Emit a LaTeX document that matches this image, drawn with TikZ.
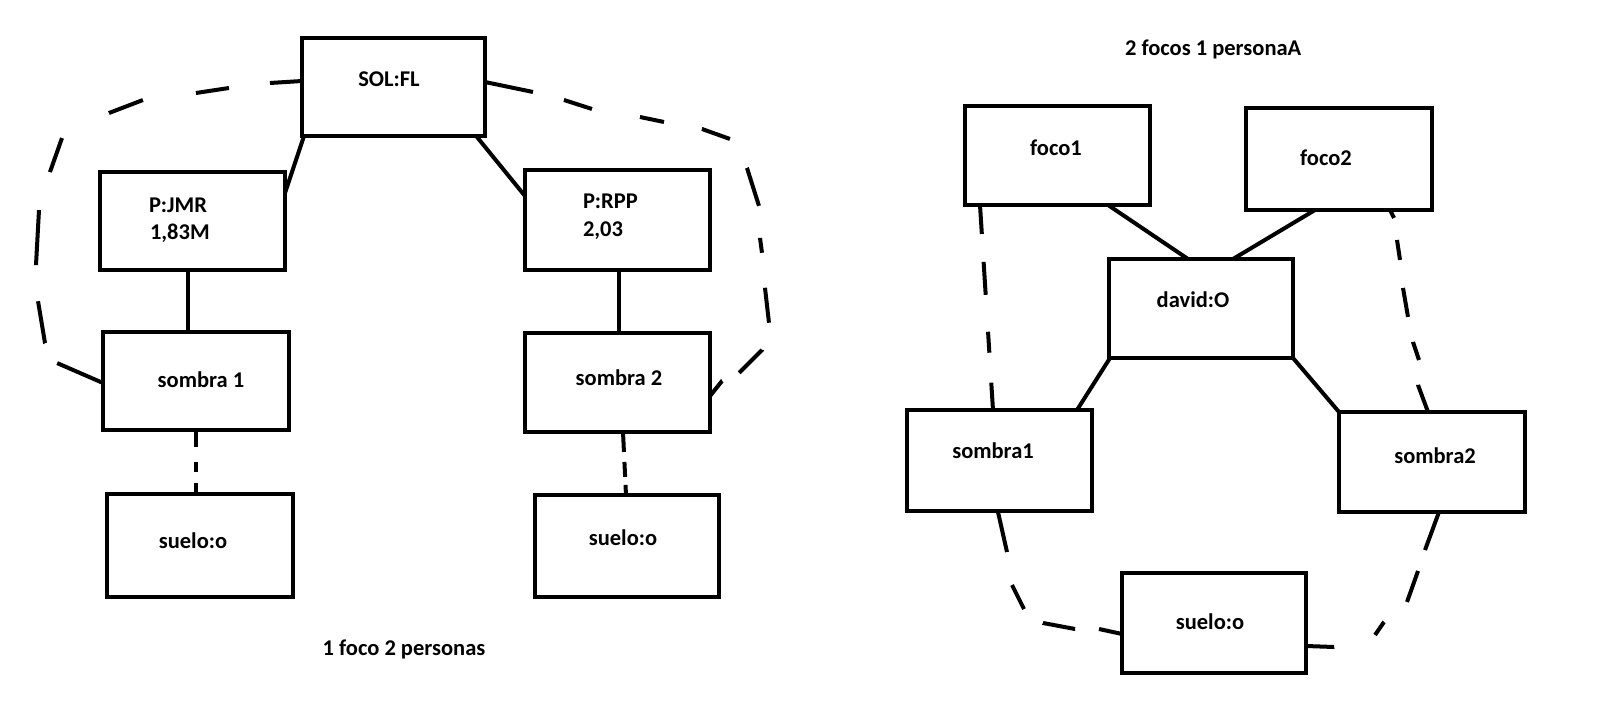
\documentclass[tikz,border=0pt]{standalone}
\usepackage{fontspec}
\setmainfont{Carlito}
\usetikzlibrary{calc}
\begin{document}
\begin{tikzpicture}[x=1pt,y=-1pt,
  box/.style 2 args={draw, line width=4pt, inner sep=0pt, outer sep=0pt, minimum width=#1pt, minimum height=#2pt},
  lbl/.style={inner sep=0pt, outer sep=0pt, anchor=base, font=\fontsize{22.5}{27}\selectfont\bfseries},
  lblw/.style={lbl, anchor=base west},
  conn/.style={line width=4pt},
  dconn/.style={line width=4pt, line join=miter}]
\fill[white] (0,0) rectangle (1612,706);
\useasboundingbox (0,0) rectangle (1612,706);
% ---------- left diagram ----------
\node[box={183}{98}] (sol) at (393.5,87) {};
\node[box={185}{98}] (pjmr) at (192.5,221) {};
\node[box={185}{100}] (prpp) at (617.5,220) {};
\node[box={186}{98}] (s1L) at (196,381) {};
\node[box={185}{99}] (s2L) at (617.5,382.5) {};
\node[box={186}{103}] (sueloLa) at (200,545.5) {};
\node[box={184}{102}] (sueloLb) at (627,546) {};
\node[lbl] (sol-t) at (389,87) {SOL:FL};
\node[lblw] (jmr-t1) at (149,212) {P:JMR};
\node[lblw] (jmr-t2) at (150,239) {1,83M};
\node[lblw] (rpp-t1) at (583,208) {P:RPP};
\node[lblw] (rpp-t2) at (583,236) {2,03};
\node[lbl] (s1L-t) at (201,387) {sombra 1};
\node[lbl] (s2L-t) at (619,385) {sombra 2};
\node[lbl] (sueloLa-t) at (193,548) {suelo:o};
\node[lbl] (sueloLb-t) at (623,545) {suelo:o};
\node[lbl] (cap1) at (404,655) {1 foco 2 personas};
\draw[conn] ($(sol.south west)+(2,0)$) -- ($(pjmr.north east)+(0,21)$);
\draw[conn] ($(sol.south east)+(-8,1)$) -- ($(prpp.north west)+(0,26)$);
\draw[conn] ($(pjmr.south)+(-4.5,0)$) -- ($(s1L.north)+(-8,0)$);
\draw[conn] ($(prpp.south)+(1.5,0)$) -- ($(s2L.north)+(1.5,0)$);
\draw[dconn, dash pattern=on 17pt off 15pt on 10pt off 11pt on 20pt off 5pt]
  (s1L.south) -- ($(sueloLa.north)+(-4,0)$);
\draw[dconn, dash pattern=on 20pt off 10pt on 15pt off 8pt on 20pt off 5pt]
  ($(s2L.south)+(5.5,0)$) -- ($(sueloLb.north)+(-1,0)$);
\draw[dconn, dash pattern=on 32.1pt off 41.3pt on 33.4pt off 53.5pt on 36.4pt off 53.2pt on 36.1pt off 39.6pt on 55.1pt off 36.1pt on 42.6pt off 23.3pt on 60pt off 10pt]
  ($(sol.west)+(0,-6)$) -- (270,83) -- (229,88) -- (196,93) -- (143,100) -- (109,113)
  -- (62,138) -- (50,172) -- (39,210) -- (36,265) -- (38,301) -- (45,343) -- (57,363)
  -- ($(s1L.west)+(0,2)$);
\draw[dconn, dash pattern=on 49pt off 32pt on 29.4pt off 48.7pt on 24.5pt off 38.6pt on 29.7pt off 33.6pt on 39.8pt off 32pt on 15.1pt off 35.1pt on 35.2pt off 27.9pt on 32.5pt off 18.8pt on 30pt off 5pt]
  ($(sol.east)+(0,-5)$) -- (533,92) -- (564,100) -- (592,109) -- (640,117) -- (664,122)
  -- (702,129) -- (730,139) -- (747,168) -- (759,206) -- (760,238) -- (762,253)
  -- (765,288) -- (769,323) -- (762,350) -- (739,373) -- (722,381)
  -- ($(s2L.east)+(0,13.5)$);
% ---------- right diagram ----------
\node[box={185}{99}] (foco1) at (1057.5,155.5) {};
\node[box={186}{102}] (foco2) at (1339,159) {};
\node[box={184}{99}] (david) at (1201,308.5) {};
\node[box={185}{101}] (sombra1R) at (999.5,460.5) {};
\node[box={186}{100}] (sombra2R) at (1432,462) {};
\node[box={184}{100}] (sueloR) at (1214,623) {};
\node[lblw] (title2) at (1125,56) {2 focos 1 personaA};
\node[lbl] (foco1-t) at (1056,156) {foco1};
\node[lbl] (foco2-t) at (1326,166) {foco2};
\node[lbl] (david-t) at (1193,307) {david:O};
\node[lbl] (sombra1R-t) at (993,458) {sombra1};
\node[lbl] (sombra2R-t) at (1435,463) {sombra2};
\node[lbl] (sueloR-t) at (1210,629) {suelo:o};
\draw[conn] ($(foco1.south)+(50.5,0)$) -- ($(david.north)+(-13,0)$);
\draw[conn] ($(foco2.south)+(-24,0)$) -- ($(david.north)+(32,0)$);
\draw[conn] ($(david.south west)+(1,0)$) -- ($(sombra1R.north east)+(-15,0)$);
\draw[conn] (david.south east) -- (sombra2R.north west);
\draw[dconn, dash pattern=on 29pt off 28pt on 33pt off 37pt on 21pt off 30pt on 40pt off 5pt]
  ($(foco1.south west)+(15,0)$) -- ($(sombra1R.north west)+(86,0)$);
\draw[dconn, dash pattern=on 8.9pt off 22.2pt on 20.2pt off 28.2pt on 29.4pt off 25.5pt on 19pt off 25pt on 35pt off 5pt]
  ($(foco2.south east)+(-42,0)$) -- (1394,218) -- (1397,240) -- (1400,260) -- (1403,288)
  -- (1408,317) -- (1413,342) -- (1419,360) -- (1418,385) -- ($(sombra2R.north west)+(89,0)$);
\draw[dconn, dash pattern=on 41pt off 33.4pt on 26.8pt off 23.6pt on 32.6pt off 24pt on 30pt off 5pt]
  ($(sombra1R.south west)+(91,1)$) -- (1007,552) -- (1012,585) -- (1024,609) -- (1043,623)
  -- (1075,629) -- (1099,629) -- ($(sueloR.west)+(0,11)$);
\draw[dconn, dash pattern=on 40.5pt off 22.1pt on 32.9pt off 30.5pt on 15.8pt off 42.7pt on 30pt off 5pt]
  ($(sombra2R.south west)+(100,0)$) -- (1425,550) -- (1418,571) -- (1407,602) -- (1384,622)
  -- (1375,635) -- (1334,647) -- ($(sueloR.east)+(0,23)$);
\end{tikzpicture}
\end{document}
